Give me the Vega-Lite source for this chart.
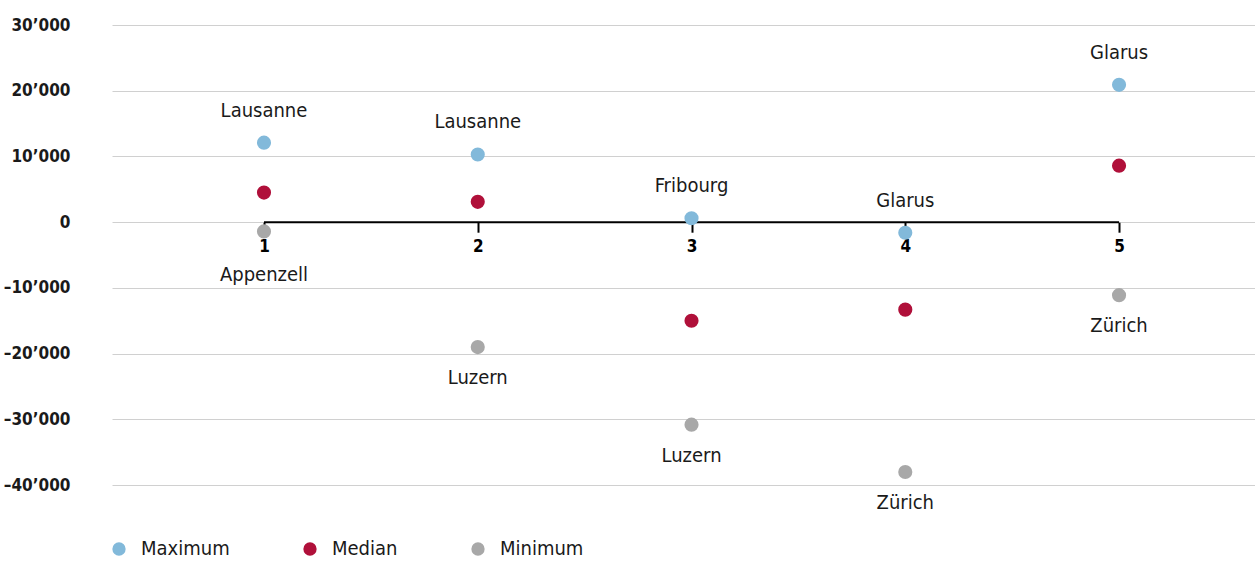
{
  "$schema": "https://vega.github.io/schema/vega-lite/v6.json",
  "autosize": "none",
  "width": 1143,
  "height": 493,
  "padding": {"left": 112, "top": 25, "right": 0, "bottom": 45},
  "config": {
    "locale": {"number": {"decimal": ".", "thousands": "’", "grouping": [3], "currency": ["", ""], "minus": "–"}},
    "view": {"stroke": null},
    "font": "DejaVu Sans Condensed, Liberation Sans, sans-serif"
  },
  "datasets": {
    "stats": [
      {"rank": 1, "stat": "Maximum", "value": 12100, "city": "Lausanne"},
      {"rank": 1, "stat": "Median", "value": 4500},
      {"rank": 1, "stat": "Minimum", "value": -1400, "city": "Appenzell"},
      {"rank": 2, "stat": "Maximum", "value": 10300, "city": "Lausanne"},
      {"rank": 2, "stat": "Median", "value": 3100},
      {"rank": 2, "stat": "Minimum", "value": -19000, "city": "Luzern"},
      {"rank": 3, "stat": "Maximum", "value": 600, "city": "Fribourg"},
      {"rank": 3, "stat": "Median", "value": -15000},
      {"rank": 3, "stat": "Minimum", "value": -30800, "city": "Luzern"},
      {"rank": 4, "stat": "Maximum", "value": -1600, "city": "Glarus"},
      {"rank": 4, "stat": "Median", "value": -13300},
      {"rank": 4, "stat": "Minimum", "value": -38000, "city": "Zürich"},
      {"rank": 5, "stat": "Maximum", "value": 20900, "city": "Glarus"},
      {"rank": 5, "stat": "Median", "value": 8600},
      {"rank": 5, "stat": "Minimum", "value": -11100, "city": "Zürich"}
    ],
    "baseline": [{"rank": 1, "rank_end": 5, "value": 0}]
  },
  "encoding": {
    "x": {
      "field": "rank", "type": "quantitative",
      "scale": {"domain": [0.289, 5.636], "nice": false, "zero": false},
      "axis": {
        "title": null, "values": [1, 2, 3, 4, 5], "format": "d",
        "offset": -295.8, "domain": false, "grid": false,
        "tickSize": 10, "tickWidth": 2, "tickColor": "#000000",
        "labelFontWeight": "bold", "labelFontSize": 17, "labelColor": "#000000",
        "labelPadding": 6
      }
    },
    "y": {
      "field": "value", "type": "quantitative",
      "scale": {"domain": [-45000, 30000], "nice": false, "zero": false},
      "axis": {
        "title": null, "values": [-40000, -30000, -20000, -10000, 0, 10000, 20000, 30000],
        "format": ",d", "domain": false, "ticks": false,
        "grid": true, "gridColor": "#d0d0d0", "gridWidth": 1,
        "labelFontWeight": "bold", "labelFontSize": 17, "labelColor": "#1a1a1a",
        "labelPadding": 42
      }
    }
  },
  "layer": [
    {
      "data": {"name": "baseline"},
      "mark": {"type": "rule", "color": "#000000", "strokeWidth": 2},
      "encoding": {"x2": {"field": "rank_end"}}
    },
    {
      "data": {"name": "stats"},
      "mark": {"type": "circle", "size": 200, "opacity": 1},
      "encoding": {
        "color": {
          "field": "stat", "type": "nominal",
          "scale": {"domain": ["Maximum", "Median", "Minimum"], "range": ["#82b9da", "#b0103a", "#a8a8a8"]},
          "legend": {
            "title": null, "orient": "none", "direction": "horizontal",
            "legendX": -3, "legendY": 514, "padding": 0,
            "symbolType": "circle", "symbolSize": 177, "symbolStrokeWidth": 0, "symbolOpacity": 1,
            "labelFontSize": 20, "labelColor": "#1a1a1a",
            "labelOffset": 12, "columnPadding": 70
          }
        }
      }
    },
    {
      "data": {"name": "stats"},
      "transform": [{"filter": "datum.stat === 'Maximum'"}],
      "mark": {"type": "text", "dy": -32, "fontSize": 20, "color": "#1a1a1a", "align": "center", "baseline": "middle"},
      "encoding": {"text": {"field": "city"}}
    },
    {
      "data": {"name": "stats"},
      "transform": [{"filter": "datum.stat === 'Minimum' && datum.rank !== 1"}],
      "mark": {"type": "text", "dy": 31, "fontSize": 20, "color": "#1a1a1a", "align": "center", "baseline": "middle"},
      "encoding": {"text": {"field": "city"}}
    },
    {
      "data": {"name": "stats"},
      "transform": [{"filter": "datum.stat === 'Minimum' && datum.rank === 1"}],
      "mark": {"type": "text", "dy": 44, "fontSize": 20, "color": "#1a1a1a", "align": "center", "baseline": "middle"},
      "encoding": {"text": {"field": "city"}}
    }
  ]
}
